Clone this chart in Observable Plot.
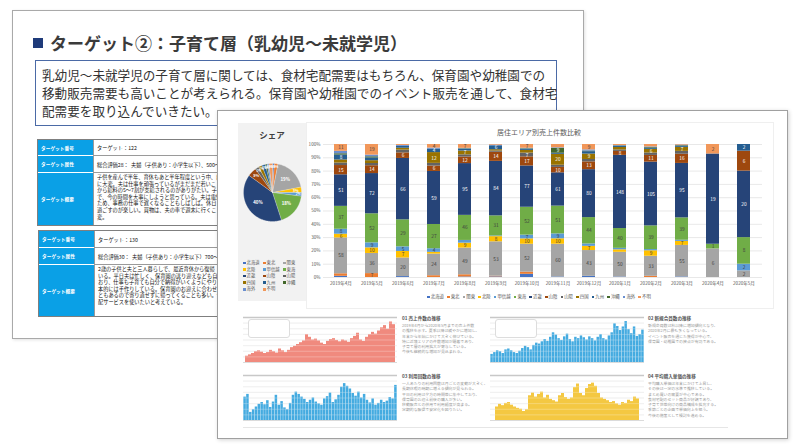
<!DOCTYPE html>
<html lang="ja">
<head>
<meta charset="utf-8">
<script src="https://cdn.jsdelivr.net/npm/d3@7"></script>
<script src="https://cdn.jsdelivr.net/npm/@observablehq/plot@0.6"></script>
<style>
html,body{margin:0;padding:0;}
body{width:800px;height:448px;position:relative;overflow:hidden;background:#fff;font-family:"Noto Sans CJK JP","Noto Sans",sans-serif;}
.a{position:absolute;}
#back{left:12px;top:10px;width:570px;height:327px;border:1px solid #a9a9a9;background:#fff;box-shadow:1px 1px 3px rgba(0,0,0,.12);}
#sq{left:33px;top:38px;width:10px;height:10px;background:#1f3b7a;}
#title{left:50px;top:32px;font-size:17px;font-weight:700;color:#3b3b3b;line-height:22px;white-space:nowrap;}
#box{left:35px;top:60px;width:520px;height:64px;border:1px solid #4b6aa6;}
#boxtext{left:42px;top:66px;font-size:12.6px;line-height:18px;color:#333;white-space:nowrap;}
.tbl{display:grid;grid-template-columns:55px 360px;border:1px solid #7f7f7f;background:#fff;}
.th{background:#0aa0e6;color:#fff;font-weight:700;font-size:4.7px;display:flex;align-items:center;padding-left:3px;border-bottom:1px solid #fff;box-sizing:border-box;white-space:nowrap;}
.td{font-size:5.2px;color:#111;display:flex;align-items:center;padding-left:3px;border-bottom:1px solid #9a9a9a;border-left:1px solid #9a9a9a;box-sizing:border-box;white-space:nowrap;overflow:hidden;}
.td.p{display:block;line-height:6.6px;padding-top:1px;}
.last{border-bottom:none;}
#front{left:217px;top:110px;width:569px;height:327px;border:1px solid #a0a0a0;background:#fff;box-shadow:1px 1px 4px rgba(0,0,0,.18);z-index:5;}
.f{z-index:6;}
#piepanel{left:238px;top:123px;width:68px;height:178px;background:#f2f2f2;}
#pietitle{left:238px;top:128px;width:68px;text-align:center;font-size:8.5px;font-weight:700;color:#404040;line-height:12px;}
#pieleg{left:243px;top:260px;display:grid;grid-template-columns:20px 20px 20px;row-gap:1.6px;font-size:4.3px;color:#595959;line-height:5px;}
#card{left:306px;top:122px;width:466px;height:185px;border:1px solid #efefef;background:#fff;}
#bartitle{left:306px;top:127px;width:466px;text-align:center;font-size:7px;color:#595959;line-height:10px;}
#barleg{left:306px;top:293px;width:466px;display:flex;justify-content:center;gap:3.2px;font-size:4.4px;color:#595959;line-height:6px;}
.sw{display:inline-block;width:2.6px;height:2.6px;margin-right:1px;vertical-align:middle;}
.mt{font-size:4.6px;font-weight:700;color:#555;line-height:6px;white-space:nowrap;}
.mp{font-size:3.9px;color:#9a9a9a;line-height:5.3px;white-space:nowrap;margin-top:2px;}
.lb{width:40px;height:17px;border:1px solid #ddd;border-radius:3px;background:#fff;}
#sep{left:243px;top:427px;width:485px;height:1px;background:#e6e6e6;}
</style>
</head>
<body>
<div id="back" class="a"></div>
<div id="sq" class="a"></div>
<div id="title" class="a">ターゲット②：子育て層（乳幼児～未就学児）</div>
<div id="box" class="a"></div>
<div id="boxtext" class="a">乳幼児～未就学児の子育て層に関しては、食材宅配需要はもちろん、保育園や幼稚園での<br>移動販売需要も高いことが考えられる。保育園や幼稚園でのイベント販売を通して、食材宅<br>配需要を取り込んでいきたい。</div>

<div class="a tbl" style="left:37px;top:139px;grid-template-rows:16px 17px 52px;">
  <div class="th">ターゲット番号</div><div class="td">ターゲット：122</div>
  <div class="th">ターゲット属性</div><div class="td">総合評価28：&nbsp; 夫婦（子供あり：小学生以下）、500～700万円</div>
  <div class="th last">ターゲット概要</div><div class="td p last">子供を産んで半年、育休もあと半年程度という中、自<br>に大変。夫は仕事を頑張っているがまだまだ若いこ<br>から給料の5～7割が支給されるのがありがたい。子<br>で、今の時間を大事にしようと思っている。夫は電気<br>ため、事務の仕事で遅くなることもしばしば。休日<br>過ごすのが楽しい。買物は、夫の車で週末に行くこ<br>変。</div>
</div>
<div class="a tbl" style="left:38px;top:230px;grid-template-rows:17px 17px 51px;">
  <div class="th">ターゲット番号</div><div class="td">ターゲット：130</div>
  <div class="th">ターゲット属性</div><div class="td">総合評価30：&nbsp; 夫婦（子供あり：小学生以下）700～1000万円</div>
  <div class="th last">ターゲット概要</div><div class="td p last">2歳の子供と夫と三人暮らしで、最近育休から復帰<br>いる。平日夫は忙しく、保育園の送り迎えなども自と<br>おり、仕事も子育ても自分で納得がいくようにやりた<br>本的には手作りしている。保育園のお迎えに合わせ<br>ともあるので寄り道せずに帰ってくることも多い。今までは<br>配サービスを使いたいと考えている。</div>
</div>

<div id="front" class="a"></div>
<div id="piepanel" class="a f"></div>
<div id="pietitle" class="a f">シェア</div>
<div id="piebox" class="a f" style="left:241px;top:161px;"></div>
<div id="pieleg" class="a f"></div>
<div id="card" class="a f"></div>
<div id="bartitle" class="a f">居住エリア別売上件数比較</div>
<div id="barbox" class="a f" style="left:300px;top:124px;"></div>
<div id="barleg" class="a f"></div>

<div id="m1" class="a f" style="left:236px;top:312px;"></div>
<div id="m2" class="a f" style="left:483px;top:312px;"></div>
<div id="m3" class="a f" style="left:236px;top:370px;"></div>
<div id="m4" class="a f" style="left:483px;top:370px;"></div>
<div class="a f lb" style="left:248px;top:319px;"></div>
<div class="a f lb" style="left:495px;top:319px;"></div>
<div class="a f" style="left:402px;top:315px;"><div class="mt">01 売上件数の推移</div><div class="mp">2019年4月から2020年5月までの売上件数<br>の推移を示す。夏季以降は緩やかに増加し、<br>年末から年始にかけて大きく伸びている。<br>特に近畿エリアの件数増加が顕著であり、<br>子育て層の利用拡大が寄与している。<br>今後も継続的な増加が見込まれる。</div></div>
<div class="a f" style="left:648px;top:315px;"><div class="mt">02 新規会員数の推移</div><div class="mp">新規会員数は秋以降に増加傾向となり、<br>2020年2月に最も多くなっている。<br>イベント販売を通じた獲得が中心で、<br>保育園・幼稚園での接点が有効である。</div></div>
<div class="a f" style="left:402px;top:373px;"><div class="mt">03 利用回数の推移</div><div class="mp">一人あたりの利用回数は月ごとの変動が大きく、<br>長期休暇の時期に増える傾向が見られる。<br>平日の利用は夕方の時間帯に集中しており、<br>保育園のお迎え前後の購入が多い。<br>移動販売との併用で利用頻度が高まる。<br>定期的な販促で安定化を図りたい。</div></div>
<div class="a f" style="left:648px;top:373px;"><div class="mt">04 平均購入単価の推移</div><div class="mp">平均購入単価は年末にかけて上昇し、<br>その後は一定の水準で推移している。<br>まとめ買いの需要が中心である。<br>食材宅配のセット商品が好調であり、<br>子育て世帯向けの商品構成を拡充する。<br>季節ごとの企画で単価向上を狙う。<br>今後の施策として検討を進める。</div></div>
<div id="sep" class="a f"></div>

<script>
// ---- data ----
const months = ["2019年4月","2019年5月","2019年6月","2019年7月","2019年8月","2019年9月","2019年10月","2019年11月","2019年12月","2020年1月","2020年2月","2020年3月","2020年4月","2020年5月"];
const categories = ["北海道","東北","関東","北陸","甲信越","東海","近畿","山陰","山陽","四国","九州","沖縄","海外","不明"];
const colors = ["#4472C4","#ED7D31","#A5A5A5","#FFC000","#5B9BD5","#70AD47","#264478","#9E480E","#636363","#997300","#255E91","#43682B","#698ED0","#F1975A"];
const hokkaido   = [2,0,1,0,1,1,6,1,2,1,0,1,0,0];
const tohoku     = [4,7,0,2,4,1,4,0,0,0,2,0,0,0];
const kanto      = [58,36,20,24,49,53,52,60,43,50,33,55,6,2];
const hokuriku   = [6,10,7,2,9,8,10,10,7,5,9,7,0,0];
const koshinetsu = [8,9,5,4,5,1,7,9,4,3,2,2,0,2];
const tokai      = [37,52,29,27,46,31,52,51,44,40,39,39,1,8];
const kinki      = [51,72,66,59,95,84,77,61,80,148,105,95,19,20];
const sanin      = [15,14,6,6,12,14,17,10,13,8,11,16,0,6];
const sanyo      = [4,4,3,3,4,2,7,4,4,3,4,5,0,0];
const shikoku    = [5,5,2,12,7,2,5,20,9,5,6,7,0,0];
const kyushu     = [8,5,2,4,3,6,2,2,4,2,2,2,0,2];
const okinawa    = [2,2,0,0,1,0,1,9,1,1,1,1,0,0];
const kaigai     = [4,3,1,1,1,1,1,1,2,1,1,1,0,0];
const fumei      = [11,19,1,4,7,1,7,6,9,2,4,1,2,0];
const sharePct   = [1,2,19,3,2,18,40,5,2,2,2,1,1,2];
const salesTrend   = [14,17,20,24,26,23,20,22,27,24,21,30,26,22,27,33,36,40,44,48,62,56,50,52,48,43,40,47,51,53,49,46,50,48,45,53,58,65,50,47,56,62,67,63,70,77,82,74,90,84];
const newMembers   = [18,22,26,24,20,28,30,26,22,20,25,31,36,33,28,38,43,41,46,51,47,56,66,61,53,49,57,63,51,46,56,53,59,55,50,57,53,48,56,62,53,50,59,66,86,80,71,79,91,73,64,79,58,62,72];
const usageCount   = [52,58,18,24,30,36,40,35,44,29,41,56,34,42,28,24,38,56,63,58,52,47,40,45,50,41,37,34,48,53,61,40,46,56,74,82,76,70,60,54,63,50,58,45,39,48,34,38,45,40,43,51,48,78];
const unitPrice    = [30,36,33,38,40,34,30,27,25,20,24,55,61,52,58,63,50,56,47,44,41,55,60,51,47,50,73,81,60,55,71,80,83,76,60,50,47,44,40,42,37,34,40,38,45,42,52,48];

const seriesByCat = [hokkaido,tohoku,kanto,hokuriku,koshinetsu,tokai,kinki,sanin,sanyo,shikoku,kyushu,okinawa,kaigai,fumei];
const FONT = "'Noto Sans CJK JP', 'Noto Sans', sans-serif";

// ---- stacked 100% bar chart ----
const rows = [];
categories.forEach((c, ci) => months.forEach((m, mi) => rows.push({month: m, cat: c, v: seriesByCat[ci][mi]})));
const totals = months.map((m, mi) => d3.sum(seriesByCat, s => s[mi]));
const darkCats = new Set(["北海道","近畿","山陰","山陽","四国","九州","沖縄"]);
const lab = dark => d => {
  const mi = months.indexOf(d.month);
  return (d.v > 0 && d.v / totals[mi] >= 0.025 && darkCats.has(d.cat) === dark) ? String(d.v) : "";
};
const bar = Plot.plot({
  width: 480, height: 166, marginTop: 20, marginBottom: 13, marginLeft: 23, marginRight: 18,
  style: {fontSize: "4.6px", fontFamily: FONT, color: "#595959", background: "transparent"},
  x: {domain: months, paddingInner: 0.58, paddingOuter: 0.33, label: null, tickSize: 0, tickPadding: 4},
  y: {domain: [0, 1], label: null, tickSize: 0, tickPadding: 3, ticks: 10, tickFormat: d => Math.round(d * 100) + "%"},
  color: {domain: categories, range: colors},
  marks: [
    Plot.ruleY(d3.range(0, 11).map(i => i / 10), {stroke: "#d9d9d9", strokeWidth: 0.6}),
    Plot.barY(rows, Plot.stackY({offset: "normalize"}, {x: "month", y: "v", fill: "cat"})),
    Plot.text(rows, Plot.stackY({offset: "normalize"}, {x: "month", y: "v", text: lab(true), fill: "white", fontSize: 4.8})),
    Plot.text(rows, Plot.stackY({offset: "normalize"}, {x: "month", y: "v", text: lab(false), fill: "#404040", fontSize: 4.8}))
  ]
});
document.getElementById("barbox").appendChild(bar);

// legends
const barleg = document.getElementById("barleg");
const pieleg = document.getElementById("pieleg");
categories.forEach((c, i) => {
  const s = `<span><span class="sw" style="background:${colors[i]}"></span>${c}</span>`;
  barleg.insertAdjacentHTML("beforeend", s);
  pieleg.insertAdjacentHTML("beforeend", `<div style="white-space:nowrap">${s}</div>`);
});

// ---- pie ----
const pieData = categories.map((c, i) => ({cat: c, v: sharePct[i]}));
const arcs = d3.pie().sort(null).value(d => d.v)(pieData);
const piePts = arcs.flatMap(a => {
  const n = Math.max(3, Math.ceil((a.endAngle - a.startAngle) / 0.02));
  const pts = [{cat: a.data.cat, x: 0, y: 0}];
  for (let k = 0; k <= n; k++) {
    const t = a.startAngle + (a.endAngle - a.startAngle) * k / n;
    pts.push({cat: a.data.cat, x: Math.sin(t), y: Math.cos(t)});
  }
  return pts;
});
const pieLabels = arcs.map(a => {
  const t = (a.startAngle + a.endAngle) / 2;
  const big = a.data.v >= 10;
  const r = big ? 0.62 : (a.data.v >= 3 ? 0.8 : 0.88);
  return {x: r * Math.sin(t), y: r * Math.cos(t), text: a.data.v + "%", fs: big ? 4.4 : (a.data.v >= 3 ? 3.8 : 3.0)};
});
const pie = Plot.plot({
  width: 62, height: 62, margin: 2,
  style: {background: "transparent", fontFamily: FONT},
  x: {domain: [-1, 1], axis: null}, y: {domain: [-1, 1], axis: null},
  color: {domain: categories, range: colors},
  marks: [
    Plot.line(piePts, {x: "x", y: "y", z: "cat", fill: "cat", stroke: "#f2f2f2", strokeWidth: 0.3, curve: "linear-closed"}),
    Plot.text(pieLabels.filter(d => d.fs > 4), {x: "x", y: "y", text: "text", fill: "white", fontSize: 4.4, fontWeight: "bold"}),
    Plot.text(pieLabels.filter(d => d.fs > 3.5 && d.fs < 4), {x: "x", y: "y", text: "text", fill: "white", fontSize: 3.8, fontWeight: "bold"}),
    Plot.text(pieLabels.filter(d => d.fs < 3.5), {x: "x", y: "y", text: "text", fill: "white", fontSize: 3.0, fontWeight: "bold", rotate: 0})
  ]
});
document.getElementById("piebox").appendChild(pie);

// ---- mini charts ----
function mini(values, color) {
  const d = values.map((v, i) => ({i, v}));
  const g = d3.range(0, 9).map(k => k * 12.5);
  return Plot.plot({
    width: 164, height: 54, marginLeft: 7, marginRight: 3, marginTop: 5, marginBottom: 4,
    style: {background: "transparent"},
    x: {type: "band", domain: d3.range(values.length), padding: 0.12, axis: null},
    y: {domain: [0, 100], axis: null},
    marks: [
      Plot.ruleY(g.slice(0, -1), {stroke: "#e6e6e6", strokeWidth: 0.8}),
      Plot.ruleY([100], {stroke: "#c8c8c8", strokeWidth: 1.4}),
      Plot.barY(d, {x: "i", y: "v", fill: color}),
      Plot.ruleY(g.slice(1, -1), {stroke: "white", strokeOpacity: 0.45, strokeWidth: 0.6}),
      Plot.ruleY([0], {stroke: "#d0d0d0", strokeWidth: 0.6})
    ]
  });
}
document.getElementById("m1").appendChild(mini(salesTrend, "#f08a7e"));
document.getElementById("m2").appendChild(mini(newMembers, "#45abe0"));
document.getElementById("m3").appendChild(mini(usageCount, "#45abe0"));
document.getElementById("m4").appendChild(mini(unitPrice, "#f4c842"));
</script>
</body>
</html>
